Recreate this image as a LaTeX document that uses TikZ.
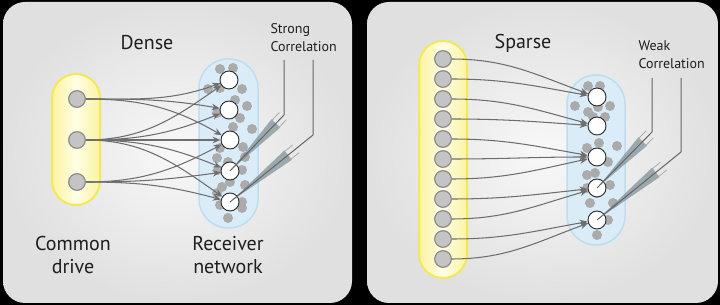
\documentclass[tikz,border=0pt]{standalone}
\usepackage{fontspec}
\setmainfont{PT Sans}
\usetikzlibrary{calc,arrows.meta}
\definecolor{panelin}{HTML}{F8F8F8}
\definecolor{panelout}{HTML}{E0E0E0}
\definecolor{yelmid}{HTML}{FFFEE6}
\definecolor{yeledge}{HTML}{FBF3A0}
\definecolor{yelline}{HTML}{F2E85A}
\definecolor{bluefill}{HTML}{D9ECF8}
\definecolor{blueline}{HTML}{BFDDF0}
\definecolor{drivefill}{HTML}{C4C4C4}
\definecolor{driveline}{HTML}{8A8A8A}
\definecolor{recvline}{HTML}{2A2A2A}
\definecolor{dotfill}{HTML}{ABABAB}
\definecolor{arrcol}{HTML}{6E6E6E}
\definecolor{eleccol}{HTML}{656565}
\definecolor{conecol}{HTML}{7A8C94}
\definecolor{txt}{HTML}{1E1E1E}
\begin{document}
\begin{tikzpicture}[x=1pt,y=1pt,
  drive/.style={circle,minimum size=16.5pt,inner sep=0pt,fill=drivefill,draw=driveline,line width=1pt},
  recv/.style={circle,minimum size=18pt,inner sep=0pt,fill=white,draw=recvline,line width=0.9pt},
  arr/.style={draw=arrcol,line width=1.05pt,-{Stealth[length=8pt,width=6.5pt]}},
  elec/.style={draw=eleccol,line width=1pt},
  bigtxt/.style={text=txt,font=\fontsize{20}{23.5}\selectfont,align=center},
  smalltxt/.style={text=txt,font=\fontsize{14}{18}\selectfont,align=left},
  cone/.style={fill=conecol,fill opacity=0.7},
  shoulder/.style={draw=gray!65,line width=0.8pt}
]
\useasboundingbox (0,0) rectangle (720,305);
\fill[black] (0,0) rectangle (720,305);
% panels
\shade[inner color=panelin,outer color=panelout,rounded corners=22] (3,2) rectangle (352,303);
\shade[inner color=panelin,outer color=panelout,rounded corners=22] (367,2) rectangle (718,303);

% ================= DENSE =================
\shadedraw[left color=yeledge,right color=yeledge,middle color=yelmid,draw=yelline,line width=2pt,rounded corners=24] (52,100) rectangle (100,231);
\filldraw[fill=bluefill,draw=blueline,line width=1.5pt,rounded corners=29] (199,77) rectangle (258,246);
\foreach \x/\y in {220/69,233/68,208/89,242/89,220/88,235/100,247/106,217/113,240/118,233/127,252/129,220/148,243/147,217/158,245/157,228/162,242/170,218/170,222/187,230/182,245/185,217/193,242/202,220/205,242/208,228/218}
  \fill[dotfill] (\x,305-\y) circle (5);
\node[drive] (ld1) at (77,206) {};
\node[drive] (ld2) at (77,165) {};
\node[drive] (ld3) at (77,123) {};
\node[recv,fill=none,draw=none] (lr1) at (229,225) {};
\node[recv,fill=none,draw=none] (lr2) at (229,195) {};
\node[recv,fill=none,draw=none] (lr3) at (230,165) {};
\node[recv,fill=none,draw=none] (lr4) at (230,134) {};
\node[recv,fill=none,draw=none] (lr5) at (230,103) {};
\foreach \s/\t/\a in {1/1/20,1/2/-10,1/3/-30,2/1/35,2/2/22,2/3/0,2/4/-22,2/5/-35,3/3/28,3/4/8,3/5/-15}{
  \pgfmathsetmacro\ia{180+\a}
  \draw[arr] (ld\s) to[out=0,in=\ia] (lr\t);
}
\foreach \i in {1,...,5} \node[recv] at (lr\i) {};
\node[drive] at (ld1) {};
\node[drive] at (ld2) {};
\node[drive] at (ld3) {};
% electrodes dense
\coordinate (le1t) at (284,245);
\coordinate (le1c) at (284,190);
\coordinate (le2t) at (313,245);
\coordinate (le2c) at (313,170);
\foreach \e/\r/\f in {1/4/0.15,2/5/0.3}{
  \coordinate (w) at ($(le\e c)!\f!(lr\r)$);
  \coordinate (wb) at ($(w)!-10pt!(lr\r)$);
  \coordinate (wf) at ($(w)!3pt!(lr\r)$);
  \fill[cone] ($(w)!6pt!90:(lr\r)$) -- ($(w)!6pt!-90:(lr\r)$) -- ($(lr\r.center)!2pt!(w)$) -- cycle;
  \draw[shoulder] ($(wb)!5pt!90:(lr\r)$) -- ($(wf)!5pt!90:(lr\r)$);
  \draw[shoulder] ($(wb)!5pt!-90:(lr\r)$) -- ($(wf)!5pt!-90:(lr\r)$);
  \draw[elec] (le\e t) -- (le\e c) -- (lr\r.center);
}
\node[bigtxt] (ldense) at (147,262) {Dense};
\node[smalltxt,anchor=west] (lstrong) at (267,267) {Strong\\Correlation};
\node[bigtxt] (lcommon) at (73,50) {Common\\drive};
\node[bigtxt] (lrecv) at (228,50) {Receiver\\network};

% ================= SPARSE =================
\shadedraw[left color=yeledge,right color=yeledge,middle color=yelmid,draw=yelline,line width=2pt,rounded corners=24] (419,27) rectangle (467,264);
\filldraw[fill=bluefill,draw=blueline,line width=1.5pt,rounded corners=29] (567,60) rectangle (625,230);
\foreach \x/\y in {588/86,600/86,575/106,588/112,598/107,610/106,593/117,605/117,600/127,599/143,617/146,587/148,608/162,587/175,595/173,610/185,587/188,597/193,613/203,590/203,608/220,597/235}
  \fill[dotfill] (\x,305-\y) circle (5);
\foreach \i in {1,...,11} \node[drive] (sd\i) at (443,266-20*\i) {};
\node[recv,fill=none,draw=none] (sr1) at (597,208) {};
\node[recv,fill=none,draw=none] (sr2) at (597,179) {};
\node[recv,fill=none,draw=none] (sr3) at (597,148) {};
\node[recv,fill=none,draw=none] (sr4) at (597,117) {};
\node[recv,fill=none,draw=none] (sr5) at (597,85) {};
\foreach \s/\t/\a in {1/1/-20,2/1/-10,3/2/-15,4/2/-4,5/3/-10,6/3/0,7/3/12,8/4/6,9/4/16,10/5/10,11/5/20}{
  \pgfmathsetmacro\ia{180+\a}
  \draw[arr] (sd\s) to[out=0,in=\ia] (sr\t);
}
\foreach \i in {1,...,5} \node[recv] at (sr\i) {};
\foreach \i in {1,...,11} \node[drive] at (sd\i) {};
\coordinate (se1t) at (652,227);
\coordinate (se1c) at (652,173);
\coordinate (se2t) at (681,227);
\coordinate (se2c) at (681,153);
\foreach \e/\r/\f in {1/4/0.17,2/5/0.3}{
  \coordinate (w) at ($(se\e c)!\f!(sr\r)$);
  \coordinate (wb) at ($(w)!-10pt!(sr\r)$);
  \coordinate (wf) at ($(w)!3pt!(sr\r)$);
  \fill[cone] ($(w)!6pt!90:(sr\r)$) -- ($(w)!6pt!-90:(sr\r)$) -- ($(sr\r.center)!2pt!(w)$) -- cycle;
  \draw[shoulder] ($(wb)!5pt!90:(sr\r)$) -- ($(wf)!5pt!90:(sr\r)$);
  \draw[shoulder] ($(wb)!5pt!-90:(sr\r)$) -- ($(wf)!5pt!-90:(sr\r)$);
  \draw[elec] (se\e t) -- (se\e c) -- (sr\r.center);
}
\node[bigtxt] (ssparse) at (523,262) {Sparse};
\node[smalltxt,anchor=west] (sweak) at (635,250) {Weak\\Correlation};
\end{tikzpicture}
\end{document}
